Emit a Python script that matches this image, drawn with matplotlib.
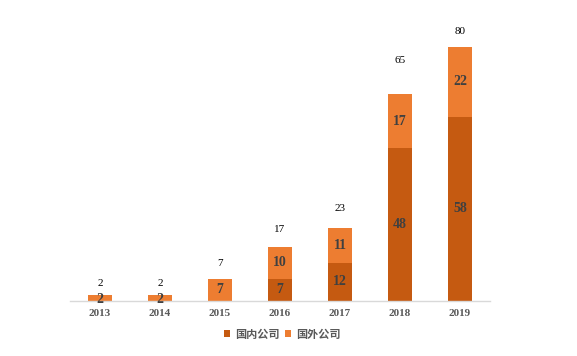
import numpy as np
import matplotlib.pyplot as plt

years = ['2013', '2014', '2015', '2016', '2017', '2018', '2019']
domestic = [0, 0, 0, 7, 12, 48, 58]
foreign = [2, 2, 7, 10, 11, 17, 22]
totals = [2, 2, 7, 17, 23, 65, 80]

cDomestic = '#C55A11'
cForeign = '#ED7D31'
serif = 'Liberation Serif'

fig = plt.figure(figsize=(5.77, 3.56), dpi=100)
ax = fig.add_axes([70 / 577, 55 / 356, 420 / 577, 286 / 356])

x = np.arange(len(years))
w = 0.41
ax.bar(x, domestic, width=w, color=cDomestic, label='国内公司')
ax.bar(x, foreign, width=w, bottom=domestic, color=cForeign, label='国外公司')

# segment labels
for i in range(len(years)):
    if domestic[i] > 0:
        ax.text(x[i], domestic[i] / 2, str(domestic[i]), ha='center', va='center',
                fontsize=10, fontweight='bold', family=serif, color='#404040')
    yc = domestic[i] + foreign[i] / 2
    if foreign[i] <= 2:
        yc = domestic[i] + 0.6
    ax.text(x[i], yc, str(foreign[i]), ha='center', va='center',
            fontsize=10, fontweight='bold', family=serif, color='#404040')

# totals above bars (pixel offsets as in the original layout)
offs = [11, 11, 15, 17, 19, 34, 15]
for i in range(len(years)):
    ax.annotate(str(totals[i]), (x[i], totals[i]), xytext=(0, offs[i] * 0.72),
                textcoords='offset points', ha='center', va='center',
                fontsize=8, family=serif, color='black')

ax.set_xlim(-0.5, len(years) - 0.5)
ax.set_ylim(0, 90)
ax.set_xticks(x)
ax.set_xticklabels(years, family=serif, fontweight='bold', fontsize=8, color='#595959')
ax.tick_params(axis='x', length=0, pad=6)
ax.set_yticks([])
for s in ['top', 'right', 'left']:
    ax.spines[s].set_visible(False)
ax.spines['bottom'].set_color('#D9D9D9')
ax.spines['bottom'].set_linewidth(1)

leg = fig.legend(loc='center', bbox_to_anchor=(282 / 577, 1 - 334 / 356), ncol=2, frameon=False,
                 prop={'family': ['Noto Sans CJK SC', 'DejaVu Sans'], 'size': 8, 'weight': 'bold'},
                 handlelength=0.6, handleheight=0.6, handletextpad=0.4, columnspacing=0.5)
for t in leg.get_texts():
    t.set_color('#595959')

fig.savefig('out.png', dpi=100)
